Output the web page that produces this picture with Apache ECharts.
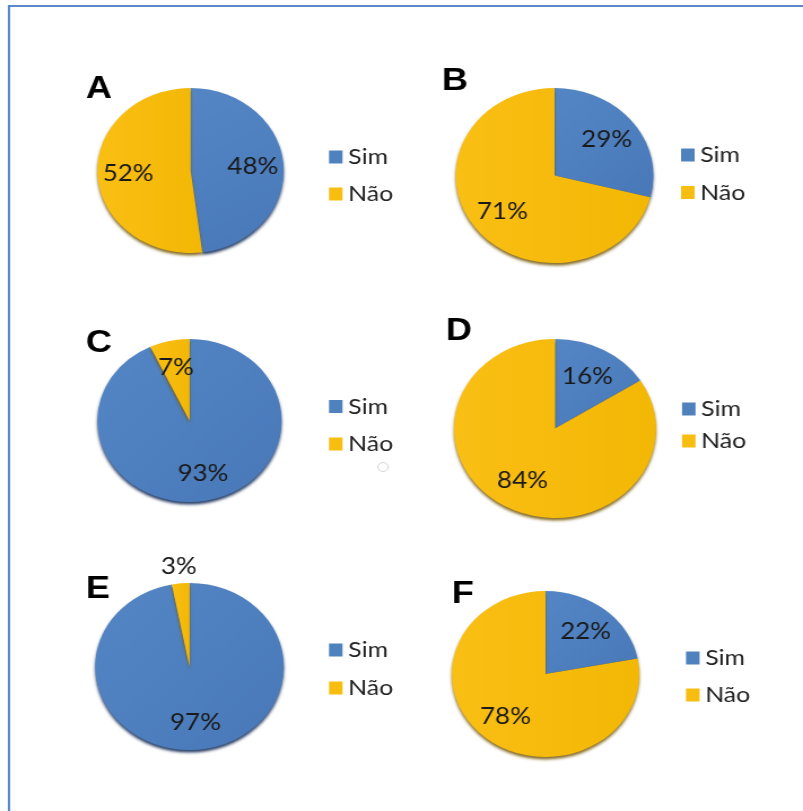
<!DOCTYPE html>
<html><head><meta charset="utf-8">
<script src="https://cdn.jsdelivr.net/npm/echarts@6/dist/echarts.min.js"></script>
<style>
html,body{margin:0;padding:0;background:#fff;overflow:hidden;width:803px;height:811px}
#wrap{position:absolute;left:0;top:0;width:803px;height:811px;overflow:hidden;background:#fff}
#chart{position:absolute;left:0;top:0;width:711px;height:811px;transform:scaleX(1.12939);transform-origin:0 0}
</style></head><body>
<div id="wrap"><div id="chart"></div></div>
<script>
// ---- data ----
const categories = ['Sim', 'Não'];
const panelNames = ['A', 'B', 'C', 'D', 'E', 'F'];
const simValues = [48, 29, 93, 16, 97, 22];
const naoValues = [52, 71, 7, 84, 3, 78];

// ---- layout (screen px) ----
const SX = 803 / 711;
const pieLayout = [[190.5,170.5,82.5],[554.5,175.5,87.5],[189.5,420.5,81.5],[555,428.5,89.5],[189.5,666.5,83.5],[545.5,674,83]];
const titleLayout = [[87,78],[443,70],[87,332],[447,320],[87,578],[453,583]];
const legendLayout = [[329,157,16],[681,155,16.5],[329,406.5,16.5],[682,409,11],[329,650,17],[686,658,16]];
const labelPush = [{}, {}, {}, {}, {1: 2.25}, {}];

// ---- styles ----
const sliceStyles = [
  { color: {type:'linear', x:0, y:0, x2:1, y2:1, colorStops:[{offset:0,color:'#5486C6'},{offset:1,color:'#4878B7'}]},
    shadowColor:'rgba(22,45,88,0.9)', shadowBlur:3, shadowOffsetY:2.5, borderWidth:0 },
  { color: {type:'linear', x:0, y:0, x2:1, y2:0, colorStops:[{offset:0,color:'#FABF14'},{offset:1,color:'#F3B705'}]},
    shadowColor:'rgba(115,85,0,0.85)', shadowBlur:3, shadowOffsetY:2.5, borderWidth:0 }
];
const legendColors = ['#4F81BD', '#F7BD10'];
const valueSets = [simValues, naoValues];

function pushLabel(cx, cy, base, extra) {
  return function (p) {
    const k = extra[p.dataIndex] !== undefined ? extra[p.dataIndex] : base;
    const r = p.labelRect;
    const x = r.x + r.width / 2, y = r.y + r.height / 2;
    return { dx: (x - cx) * (k - 1), dy: (y - cy) * (k - 1) };
  };
}

const series = [], legends = [], titles = [];
panelNames.forEach(function (name, i) {
  const pl = pieLayout[i];
  const cx = pl[0] / SX, cy = pl[1];
  series.push({
    type: 'pie', name: name, center: [cx, cy], radius: pl[2],
    startAngle: 90, clockwise: true, avoidLabelOverlap: false, silent: true,
    animation: false, emphasis: { disabled: true },
    label: { show: true, position: 'inside', formatter: '{c}%', color: '#1a1a1a',
             fontFamily: 'Lato', fontSize: 23 },
    labelLine: { show: false },
    labelLayout: pushLabel(cx, cy, 1.25, labelPush[i]),
    data: categories.map(function (c, j) {
      return { name: c, value: valueSets[j][i], itemStyle: sliceStyles[j] };
    })
  });
  const ll = legendLayout[i];
  legends.push({
    orient: 'vertical', left: ll[0] / SX, top: ll[1] - 11, itemGap: ll[2] - 1,
    itemWidth: 12, itemHeight: 13, icon: 'rect', padding: 0, selectedMode: false,
    textStyle: { fontFamily: 'Lato', fontSize: 22, color: '#222' },
    data: categories.map(function (c, j) { return { name: c, itemStyle: { color: legendColors[j] } }; })
  });
  const tl = titleLayout[i];
  titles.push({
    text: name, left: tl[0] / SX - 1, top: tl[1] - 5, padding: 0,
    textStyle: { fontFamily: 'Liberation Sans', fontWeight: 'bold', fontSize: 32, color: '#000' }
  });
});

const chart = echarts.init(document.getElementById('chart'), null, { renderer: 'canvas' });
chart.setOption({
  animation: false,
  backgroundColor: '#fff',
  title: titles,
  legend: legends,
  series: series,
  graphic: [
    { type: 'rect', silent: true, shape: { x: 9 / SX, y: 6, width: 1000, height: 1000 },
      style: { fill: 'none', stroke: '#5A88CA', lineWidth: 2 } },
    { type: 'circle', silent: true, shape: { cx: 383 / SX, cy: 467, r: 4.5 },
      style: { fill: 'none', stroke: '#d6d6d6', lineWidth: 1 } }
  ]
});
</script>
</body></html>
